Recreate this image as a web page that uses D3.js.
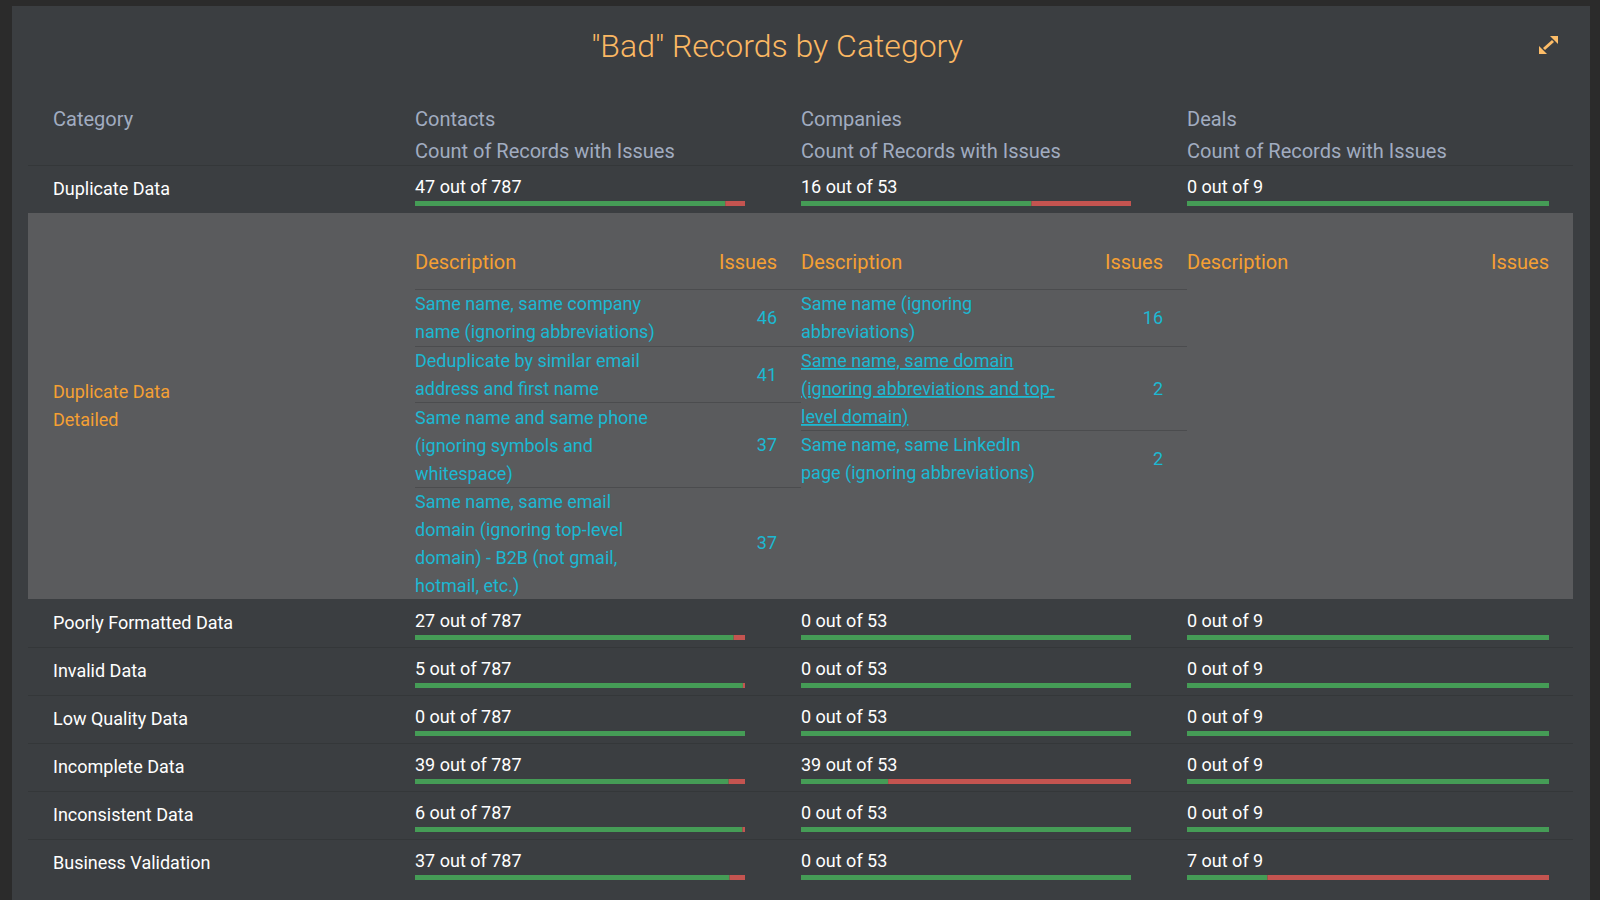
<!DOCTYPE html>
<html>
<head>
<meta charset="utf-8">
<script src="https://cdn.jsdelivr.net/npm/d3@7"></script>
<style>
    html, body { margin: 0; padding: 0; background: #2b2b2b; overflow: hidden; }
    svg { display: block; font-family: Roboto, sans-serif; }
</style>
</head>
<body>
<div id="chart"></div>
<script>
var titleText = '"Bad" Records by Category';
var tableNames = ["Contacts", "Companies", "Deals"];
var tableTotals = [787, 53, 9];
var subHeader = "Count of Records with Issues";

var duplicateCategory = "Duplicate Data";
var duplicateIssues = [47, 16, 0];

var lowerCategories = ["Poorly Formatted Data", "Invalid Data", "Low Quality Data", "Incomplete Data", "Inconsistent Data", "Business Validation"];
var contactsIssues = [27, 5, 0, 39, 6, 37];
var companiesIssues = [0, 0, 0, 39, 0, 0];
var dealsIssues = [0, 0, 0, 0, 0, 7];

var detailLabel = ["Duplicate Data", "Detailed"];
var contactsDetailText = [
    ["Same name, same company", "name (ignoring abbreviations)"],
    ["Deduplicate by similar email", "address and first name"],
    ["Same name and same phone", "(ignoring symbols and", "whitespace)"],
    ["Same name, same email", "domain (ignoring top-level", "domain) - B2B (not gmail,", "hotmail, etc.)"]
];
var contactsDetailValues = [46, 41, 37, 37];
var companiesDetailText = [
    ["Same name (ignoring", "abbreviations)"],
    ["Same name, same domain", "(ignoring abbreviations and top-", "level domain)"],
    ["Same name, same LinkedIn", "page (ignoring abbreviations)"]
];
var companiesDetailValues = [16, 2, 2];
var hoveredLink = "Same name, same domain";

const canvasWidth = 1600;
const canvasHeight = 900;
const headerSize = 20;
const bodySize = 18;
const columnLeft = [415, 801, 1187];
const barRight = [745, 1131, 1549];
const columnRight = [801, 1187, 1573];
const issuesRight = [777, 1163, 1549];
const rowHeight = 48;
const lineHeight = 27.8;
const detailTop = 213;
const detailBottom = 599;
const detailHeaderLine = 289;
const headerColor = "#a1acc0";
const orange = "#f5a033";
const cyan = "#1cb8d2";

const svg = d3.select("#chart").append("svg")
    .attr("width", canvasWidth)
    .attr("height", canvasHeight);

// panel and grey block
svg.append("rect").attr("x", 12).attr("y", 6).attr("width", 1578).attr("height", 900).attr("fill", "#3b3e41");
svg.append("rect").attr("x", 28).attr("y", detailTop).attr("width", 1545).attr("height", detailBottom - detailTop).attr("fill", "#5a5b5d");

svg.append("text")
    .attr("x", 777).attr("y", 57)
    .attr("text-anchor", "middle")
    .attr("font-size", 32).attr("font-weight", 300)
    .attr("fill", "#fbb863")
    .text(titleText);

// expand icon
const icon = svg.append("g").attr("transform", "translate(1539,36)").attr("fill", "#fdbd68");
icon.append("path").attr("d", "M11 0H19V8Z");
icon.append("path").attr("d", "M0 10V18H8Z");
icon.append("line").attr("x1", 5).attr("y1", 13).attr("x2", 14).attr("y2", 5)
    .attr("stroke", "#fdbd68").attr("stroke-width", 3);

function hLine(x1, x2, y, color) {
    svg.append("line").attr("x1", x1).attr("x2", x2).attr("y1", y + 0.5).attr("y2", y + 0.5)
        .attr("stroke", color).attr("stroke-width", 1);
}

function label(x, y, txt, color, size, anchor, weight) {
    return svg.append("text")
        .attr("x", x).attr("y", y)
        .attr("text-anchor", anchor || "start")
        .attr("font-size", size)
        .attr("font-weight", weight || 400)
        .attr("fill", color)
        .text(txt);
}

// header
label(53, 126, "Category", headerColor, headerSize);
tableNames.forEach(function (name, i) {
    label(columnLeft[i], 126, name, headerColor, headerSize);
    label(columnLeft[i], 158, subHeader, headerColor, headerSize);
});
hLine(28, 1573, 165, "#343739");

const xScales = tableTotals.map(function (total, i) {
    return d3.scaleLinear().domain([0, total]).range([columnLeft[i], barRight[i]]);
});

function drawRow(top, category, issues) {
    label(53, top + 30, category, "#ffffff", bodySize);
    issues.forEach(function (count, i) {
        var xs = xScales[i];
        var total = tableTotals[i];
        label(columnLeft[i], top + 28, count + " out of " + total, "#ffffff", bodySize);
        // green part on the left, red part is the share with issues
        svg.append("rect").attr("x", xs(0)).attr("y", top + 36)
            .attr("width", xs(total - count) - xs(0)).attr("height", 5).attr("fill", "#459c56");
        svg.append("rect").attr("x", xs(total - count)).attr("y", top + 36)
            .attr("width", xs(total) - xs(total - count)).attr("height", 5).attr("fill", "#c45450");
    });
}

drawRow(165, duplicateCategory, duplicateIssues);

const yRow = d3.scaleBand()
    .domain(lowerCategories)
    .range([detailBottom, detailBottom + rowHeight * lowerCategories.length]);

lowerCategories.forEach(function (category, r) {
    var top = yRow(category);
    if (r > 0) hLine(28, 1573, top, "#343739");
    drawRow(top, category, [contactsIssues[r], companiesIssues[r], dealsIssues[r]]);
});

// detail block
label(53, 398, detailLabel[0], orange, bodySize);
label(53, 426, detailLabel[1], orange, bodySize);

tableNames.forEach(function (name, i) {
    label(columnLeft[i], 269, "Description", orange, headerSize);
    label(issuesRight[i], 269, "Issues", orange, headerSize, "end");
});

function drawDetail(col, texts, values) {
    var top = detailHeaderLine;
    hLine(columnLeft[col], columnRight[col], top, "#4b4c4e");
    texts.forEach(function (lines, k) {
        lines.forEach(function (line, j) {
            // html text sits on whole pixels
            var t = label(columnLeft[col], Math.ceil(top + 20.95 + j * 28), line, cyan, bodySize);
            if (lines[0] === hoveredLink) t.attr("text-decoration", "underline");
        });
        var h = lines.length * lineHeight + 1;
        label(issuesRight[col], Math.ceil(top + h / 2 + 6.3), values[k], cyan, bodySize, "end");
        top += h;
        if (k < texts.length - 1) hLine(columnLeft[col], columnRight[col], Math.round(top), "#4b4c4e");
    });
}

drawDetail(0, contactsDetailText, contactsDetailValues);
drawDetail(1, companiesDetailText, companiesDetailValues);
</script>
</body>
</html>
